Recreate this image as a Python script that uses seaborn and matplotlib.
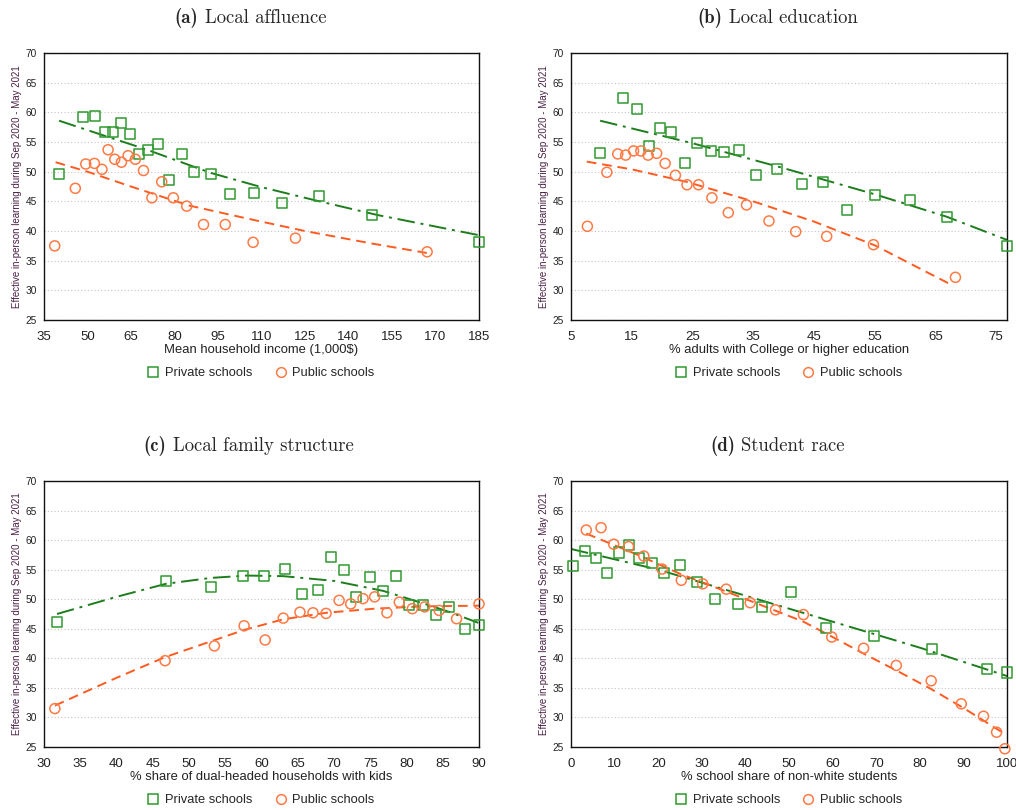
import pandas as pd
import matplotlib.pyplot as plt
import seaborn as sns
from matplotlib.lines import Line2D

sns.set_theme(style='white')
plt.rcParams['font.family'] = ['Liberation Sans', 'DejaVu Sans']

GREEN = '#2f9a2f'
DGREEN = '#1d7d1d'
ORANGE = '#ff7a45'
DORANGE = '#ff5a1f'

# (a) Local affluence
a_priv_x = [40.2, 48.5, 52.5, 55.9, 58.9, 61.7, 64.5, 67.6, 70.9, 74.4,
            78.1, 82.5, 86.7, 92.5, 99.0, 107.4, 116.9, 129.7, 148.2, 185.0]
a_priv_y = [49.6, 59.2, 59.4, 56.7, 56.7, 58.2, 56.3, 53.0, 53.7, 54.7,
            48.6, 53.0, 50.0, 49.6, 46.3, 46.4, 44.8, 45.9, 42.7, 38.2]
a_pub_x = [38.7, 45.8, 49.4, 52.4, 55.0, 57.1, 59.4, 61.7, 64.0, 66.5,
           69.3, 72.2, 75.6, 79.6, 84.2, 90.0, 97.5, 107.1, 121.7, 167.1]
a_pub_y = [37.5, 47.2, 51.3, 51.4, 50.4, 53.7, 52.1, 51.6, 52.7, 52.1,
           50.2, 45.6, 48.3, 45.6, 44.2, 41.1, 41.1, 38.1, 38.8, 36.5]
a_priv_fit_x = [40.2, 55, 70, 92.5, 110, 130, 150, 185]
a_priv_fit_y = [58.6, 56.2, 53.8, 49.8, 47.4, 45.0, 42.7, 39.3]
a_pub_fit_x = [39, 50, 65, 85, 107, 125, 148, 167]
a_pub_fit_y = [51.6, 50.0, 47.5, 44.3, 41.9, 40.0, 37.9, 36.3]

# (b) Local education
b_priv_x = [9.8, 13.6, 15.8, 17.8, 19.7, 21.5, 23.7, 25.8, 28.0, 30.2,
            32.7, 35.4, 38.9, 43.0, 46.5, 50.5, 55.0, 60.8, 66.9, 76.8]
b_priv_y = [53.1, 62.5, 60.5, 54.3, 57.3, 56.7, 51.5, 54.8, 53.5, 53.4,
            53.7, 49.5, 50.4, 48.0, 48.3, 43.6, 46.1, 45.3, 42.4, 37.5]
b_pub_x = [7.7, 10.9, 12.7, 14.0, 15.3, 16.5, 17.7, 19.1, 20.5, 22.2,
           24.1, 26.0, 28.2, 30.9, 33.9, 37.6, 42.0, 47.1, 54.8, 68.3]
b_pub_y = [40.8, 49.9, 53.0, 52.8, 53.5, 53.5, 52.8, 53.1, 51.4, 49.4,
           47.8, 47.8, 45.6, 43.1, 44.4, 41.7, 39.9, 39.1, 37.7, 32.2]
b_priv_fit_x = [9.8, 25, 40, 55, 66.9, 76.8]
b_priv_fit_y = [58.6, 54.8, 50.6, 46.2, 42.4, 38.5]
b_pub_fit_x = [7.6, 15, 24, 35, 45, 55, 67.9]
b_pub_fit_y = [51.7, 50.4, 48.3, 45.0, 41.6, 37.6, 30.8]

# (c) Local family structure
c_priv_x = [31.8, 46.8, 53.1, 57.5, 60.4, 63.2, 65.6, 67.8, 69.6, 71.4,
            73.0, 74.9, 76.8, 78.5, 80.3, 82.3, 84.1, 85.9, 88.1, 90.0]
c_priv_y = [46.2, 53.0, 52.0, 54.0, 54.0, 55.1, 50.8, 51.6, 57.2, 55.0,
            50.4, 53.7, 51.4, 53.9, 49.0, 49.1, 47.3, 48.6, 45.0, 45.6]
c_pub_x = [31.5, 46.7, 53.5, 57.6, 60.5, 63.0, 65.3, 67.1, 68.9, 70.7,
           72.3, 74.0, 75.6, 77.3, 79.0, 80.8, 82.5, 84.5, 86.9, 90.0]
c_pub_y = [31.5, 39.6, 42.1, 45.5, 43.1, 46.8, 47.8, 47.7, 47.6, 49.8,
           49.2, 50.1, 50.4, 47.7, 49.5, 48.4, 48.7, 48.1, 46.7, 49.2]
c_priv_fit_x = [31.8, 40, 46.8, 53, 58, 63, 70, 76.8, 82.3, 86, 89.9]
c_priv_fit_y = [47.5, 50.4, 52.6, 53.6, 54.0, 53.9, 53.1, 51.4, 49.3, 47.8, 46.0]
c_pub_fit_x = [31.5, 40, 46.7, 57.6, 63, 68.9, 75.6, 82.5, 90]
c_pub_fit_y = [32.0, 36.7, 40.2, 44.8, 46.6, 47.7, 48.4, 48.8, 48.9]

# (d) Student race
d_priv_x = [0.5, 3.3, 5.7, 8.3, 10.9, 13.2, 15.5, 18.5, 21.4, 24.9,
            28.8, 33.1, 38.3, 43.8, 50.5, 58.4, 69.5, 82.8, 95.3, 99.9]
d_priv_y = [55.6, 58.2, 57.0, 54.5, 57.9, 59.1, 57.0, 56.2, 54.4, 55.8,
            52.9, 50.0, 49.2, 48.6, 51.2, 45.1, 43.8, 41.5, 38.2, 37.6]
d_pub_x = [3.5, 6.9, 9.8, 13.2, 16.7, 20.9, 25.3, 30.2, 35.6, 41.1,
           46.9, 53.3, 59.8, 67.1, 74.6, 82.6, 89.5, 94.6, 97.6, 99.5]
d_pub_y = [61.7, 62.1, 59.3, 58.9, 57.3, 55.1, 53.2, 52.6, 51.7, 49.4,
           48.2, 47.4, 43.6, 41.7, 38.8, 36.2, 32.3, 30.2, 27.5, 24.7]
d_priv_fit_x = [0, 20, 40, 60, 80, 100]
d_priv_fit_y = [58.5, 55.0, 50.6, 46.2, 41.8, 37.0]
d_pub_fit_x = [3.5, 15, 25, 35.6, 45, 53.3, 60, 67.1, 75, 82.6, 90, 99.5]
d_pub_fit_y = [61.1, 57.6, 54.3, 51.3, 48.6, 46.2, 43.6, 40.8, 37.8, 34.8, 31.6, 27.2]

panels = [
    dict(tag='(a)', title='Local affluence', xlabel='Mean household income (1,000$)',
         xlim=(35, 185), xticks=range(35, 186, 15),
         px=a_priv_x, py=a_priv_y, ux=a_pub_x, uy=a_pub_y,
         pfx=a_priv_fit_x, pfy=a_priv_fit_y, ufx=a_pub_fit_x, ufy=a_pub_fit_y),
    dict(tag='(b)', title='Local education', xlabel='% adults with College or higher education',
         xlim=(5, 76.8), xticks=range(5, 76, 10),
         px=b_priv_x, py=b_priv_y, ux=b_pub_x, uy=b_pub_y,
         pfx=b_priv_fit_x, pfy=b_priv_fit_y, ufx=b_pub_fit_x, ufy=b_pub_fit_y),
    dict(tag='(c)', title='Local family structure', xlabel='% share of dual-headed households with kids',
         xlim=(30, 90), xticks=range(30, 91, 5),
         px=c_priv_x, py=c_priv_y, ux=c_pub_x, uy=c_pub_y,
         pfx=c_priv_fit_x, pfy=c_priv_fit_y, ufx=c_pub_fit_x, ufy=c_pub_fit_y),
    dict(tag='(d)', title='Student race', xlabel='% school share of non-white students',
         xlim=(0, 100), xticks=range(0, 101, 10),
         px=d_priv_x, py=d_priv_y, ux=d_pub_x, uy=d_pub_y,
         pfx=d_priv_fit_x, pfy=d_priv_fit_y, ufx=d_pub_fit_x, ufy=d_pub_fit_y),
]

positions = [[0.0433, 0.6049, 0.4282, 0.3296], [0.562, 0.6049, 0.4292, 0.3296],
             [0.0433, 0.0778, 0.4282, 0.3284], [0.562, 0.0778, 0.4292, 0.3284]]
# (tag right edge px, title left edge px, centre y px)
title_pos = [(198, 205, 18), (722, 729, 18), (166, 173, 446), (735, 741, 446)]

fig = plt.figure(figsize=(10.16, 8.1), dpi=100)

for p, pos, tpos in zip(panels, positions, title_pos):
    ax = fig.add_axes(pos)
    ax.yaxis.grid(True, linestyle=(0, (1, 2)), color='#c4c4c4', lw=0.8)
    ax.set_axisbelow(True)

    sns.lineplot(x=p['pfx'], y=p['pfy'], ax=ax, color=DGREEN, lw=1.4,
                 linestyle=(0, (9, 3, 1.5, 3)), zorder=2)
    sns.lineplot(x=p['ufx'], y=p['ufy'], ax=ax, color=DORANGE, lw=1.4,
                 linestyle=(0, (5, 3)), zorder=2)
    sns.scatterplot(x=p['px'], y=p['py'], ax=ax, marker='s', s=52,
                    facecolor='none', edgecolor=GREEN, linewidth=1.1, zorder=3,
                    clip_on=False)
    sns.scatterplot(x=p['ux'], y=p['uy'], ax=ax, marker='o', s=52,
                    facecolor='none', edgecolor=ORANGE, linewidth=1.1, zorder=3,
                    clip_on=False)

    ax.set_xlim(*p['xlim'])
    ax.set_xticks(list(p['xticks']))
    ax.set_ylim(25, 70)
    ax.set_yticks(range(25, 71, 5))
    ax.tick_params(axis='y', labelsize=7.3, length=4, width=0.8, colors='#222222', pad=1)
    ax.tick_params(axis='x', labelsize=9.5, length=4, width=0.8, colors='#222222', pad=4)
    for s in ax.spines.values():
        s.set_color('#111111')
        s.set_linewidth(1.0)
    ax.set_ylabel('Effective in-person learning during Sep 2020 - May 2021',
                  fontsize=7.0, color='#4a2045', labelpad=3)
    ax.set_xlabel(p['xlabel'], fontsize=9.4, color='#222222', labelpad=0.5)

    handles = [Line2D([], [], marker='s', ls='none', mfc='none', mec=GREEN, ms=7, mew=1.1),
               Line2D([], [], marker='o', ls='none', mfc='none', mec=ORANGE, ms=7, mew=1.1)]
    ax.legend(handles, ['Private schools', 'Public schools'], loc='center',
              bbox_to_anchor=(0.5, -0.2), ncol=2, frameon=False, fontsize=9.3,
              handlelength=0.8, handletextpad=0.5, columnspacing=1.8)

    fig.text(tpos[0] / 1016, 1 - tpos[2] / 810, p['tag'], family='cmb10',
             fontsize=13.5, ha='right', va='center')
    fig.text(tpos[1] / 1016, 1 - tpos[2] / 810, p['title'], family='cmr10',
             fontsize=13.5, ha='left', va='center')

fig.savefig('out.png', dpi=100)
